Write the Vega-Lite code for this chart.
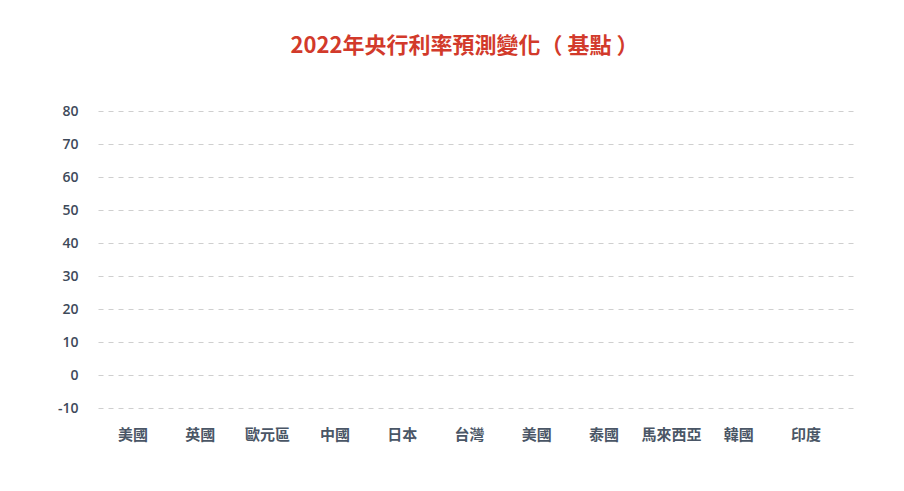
{
  "$schema": "https://vega.github.io/schema/vega-lite/v6.json",
  "autosize": "none",
  "width": 757,
  "height": 297,
  "padding": {"left": 98, "top": 111, "right": 49, "bottom": 83},
  "background": "#ffffff",
  "title": {
    "text": "2022年央行利率預測變化（ 基點 ）",
    "color": "#d23a2b",
    "fontSize": 22,
    "fontWeight": "bold",
    "font": "Noto Sans CJK TC",
    "anchor": "middle",
    "offset": 46,
    "dx": -12
  },
  "data": {
    "values": [
      {"country": "美國", "bp": null},
      {"country": "英國", "bp": null},
      {"country": "歐元區", "bp": null},
      {"country": "中國", "bp": null},
      {"country": "日本", "bp": null},
      {"country": "台灣", "bp": null},
      {"country": "美國 ", "bp": null},
      {"country": "泰國", "bp": null},
      {"country": "馬來西亞", "bp": null},
      {"country": "韓國", "bp": null},
      {"country": "印度", "bp": null}
    ]
  },
  "mark": {"type": "bar", "color": "#d23a2b"},
  "encoding": {
    "x": {
      "field": "country",
      "type": "nominal",
      "sort": null,
      "scale": {
        "domain": ["美國", "英國", "歐元區", "中國", "日本", "台灣", "美國 ", "泰國", "馬來西亞", "韓國", "印度"],
        "paddingOuter": 0.274,
        "paddingInner": 0.3,
        "align": 0.31
      },
      "axis": {
        "title": null,
        "domain": false,
        "ticks": false,
        "labelAngle": 0,
        "labelPadding": 19,
        "labelFontSize": 15,
        "labelFontWeight": "bold",
        "labelColor": "#4a5666",
        "labelFont": "Noto Sans CJK TC"
      }
    },
    "y": {
      "field": "bp",
      "type": "quantitative",
      "scale": {"domain": [-10, 80], "nice": false, "zero": false},
      "axis": {
        "title": null,
        "values": [-10, 0, 10, 20, 30, 40, 50, 60, 70, 80],
        "labelExpr": "'' + datum.value",
        "domain": false,
        "ticks": false,
        "labelPadding": 20,
        "labelFontSize": 14,
        "labelFontWeight": 600,
        "labelColor": "#3e4a5a",
        "labelFont": "Open Sans",
        "grid": true,
        "gridColor": "#cfcfcf",
        "gridDash": [5, 5],
        "gridWidth": 1
      }
    }
  },
  "config": {
    "view": {"stroke": null}
  }
}
